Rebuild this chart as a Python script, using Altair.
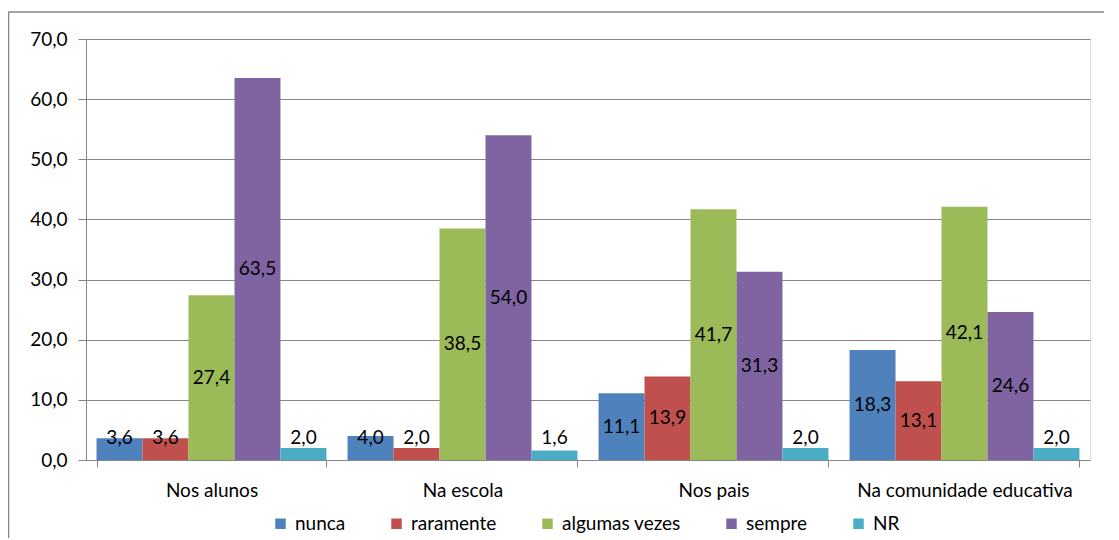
import altair as alt
import pandas as pd

categories = ["Nos alunos", "Na escola", "Nos pais", "Na comunidade educativa"]
series = ["nunca", "raramente", "algumas vezes", "sempre", "NR"]
colors = ["#4F81BD", "#C0504D", "#9BBB59", "#8064A2", "#4BACC6"]
nunca = [3.6, 4.0, 11.1, 18.3]
raramente = [3.6, 2.0, 13.9, 13.1]
algumas_vezes = [27.4, 38.5, 41.7, 42.1]
sempre = [63.5, 54.0, 31.3, 24.6]
nr = [2.0, 1.6, 2.0, 2.0]
y_ticks = [0, 10, 20, 30, 40, 50, 60, 70]

values_by_series = [nunca, raramente, algumas_vezes, sempre, nr]
rows = []
for s, vals in zip(series, values_by_series):
    for c, v in zip(categories, vals):
        rows.append({"categoria": c, "serie": s, "valor": v})
df = pd.DataFrame(rows)

FONT = "Lato"
FS = 19
GRAY = "#868686"

x_enc = alt.X("categoria:N", sort=categories, title=None,
              scale=alt.Scale(paddingInner=0.084, paddingOuter=0.042),
              axis=alt.Axis(labelAngle=0, tickBand="extent", grid=False,
                            tickSize=7, labelPadding=14, domainColor=GRAY,
                            tickColor=GRAY, labelFontSize=FS, labelFont=FONT,
                            labelColor="black", labelLimit=0))
xoff = alt.XOffset("serie:N", sort=series, scale=alt.Scale(paddingInner=0, paddingOuter=0))
y_scale = alt.Scale(domain=[0, 70], nice=False)

base = alt.Chart(df)

bars = base.mark_bar(stroke=None).encode(
    x=x_enc,
    xOffset=xoff,
    y=alt.Y("valor:Q", scale=y_scale, title=None,
            axis=alt.Axis(values=y_ticks, tickSize=8, labelPadding=11,
                          labelExpr="replace(format(datum.value, '.1f'), '.', ',')",
                          gridColor=GRAY, domainColor=GRAY, tickColor=GRAY,
                          labelFontSize=FS, labelFont=FONT, labelColor="black")),
    color=alt.Color("serie:N", sort=series,
                    scale=alt.Scale(domain=series, range=colors),
                    legend=alt.Legend(title=None, orient="none", direction="horizontal",
                                      legendX=185, legendY=475, symbolType="square",
                                      symbolSize=110, symbolStrokeWidth=0,
                                      labelFontSize=FS, labelFont=FONT, labelColor="black",
                                      columnPadding=41, labelOffset=5, padding=0,
                                      labelLimit=0)),
)

labels = base.transform_calculate(
    label="replace(format(datum.valor, '.1f'), '.', ',')",
    ly="max(datum.valor / 2, 3.7)",
).mark_text(fontSize=FS, font=FONT, color="black", baseline="middle", align="center").encode(
    x=alt.X("categoria:N", sort=categories),
    xOffset=xoff,
    y=alt.Y("ly:Q", scale=y_scale),
    text="label:N",
)

frame_df = pd.DataFrame({"k": [0]})
frame_top = alt.Chart(frame_df).mark_rule(color=GRAY, strokeWidth=1.5).encode(
    x=alt.value(-77.5), x2=alt.value(1100), y=alt.value(-27))
frame_left = alt.Chart(frame_df).mark_rule(color=GRAY, strokeWidth=1.5).encode(
    x=alt.value(-77.5), y=alt.value(-27), y2=alt.value(600))

chart = alt.layer(bars, labels, frame_top, frame_left).properties(
    width=1004, height=421,
    autosize=alt.AutoSizeParams(type="none"),
    padding={"left": 78, "top": 31, "right": 14, "bottom": 78},
).configure_view(stroke=None).configure(background="white")

chart.save("out.html", embed_options={"renderer": "svg", "actions": False})
